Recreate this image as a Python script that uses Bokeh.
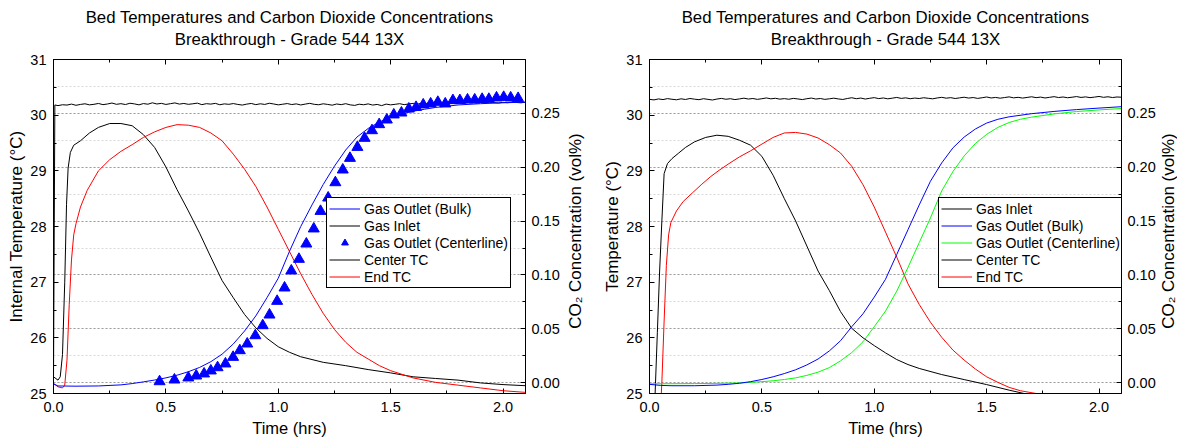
import math
from bokeh.plotting import figure
from bokeh.models import (Range1d, LinearAxis, Grid, Legend, LegendItem, Title, Label,
                          SingleIntervalTicker, NumeralTickFormatter, CustomJSTickFormatter)
from bokeh.layouts import row
from bokeh.embed import file_html
from bokeh.resources import INLINE

FONT = "Liberation Sans"
TITLE_1 = "Bed Temperatures and Carbon Dioxide Concentrations"
TITLE_2 = "Breakthrough - Grade 544 13X"
X_LABEL = "Time (hrs)"
Y_LABEL_A = "Internal Temperature (\u00b0C)"
Y_LABEL_B = "Temperature (\u00b0C)"
Y2_LABEL = "CO\u2082 Concentration (vol%)"

# ---------------- Left panel data ----------------
L_center_t = [0.0, 0.02, 0.03, 0.04, 0.05, 0.058, 0.065, 0.075, 0.09, 0.12,
              0.16, 0.20, 0.25, 0.30, 0.35, 0.40, 0.45, 0.50, 0.55, 0.60,
              0.65, 0.70, 0.75, 0.80, 0.85, 0.90, 0.95, 1.00, 1.05, 1.10,
              1.20, 1.30, 1.40, 1.50, 1.60, 1.70, 1.80, 1.90, 2.00, 2.10]
L_center_T = [25.30, 25.24, 25.30, 25.70, 27.00, 28.40, 29.05, 29.33, 29.46, 29.54,
              29.68, 29.78, 29.85, 29.85, 29.81, 29.65, 29.42, 29.07, 28.66, 28.28,
              27.88, 27.45, 27.03, 26.72, 26.42, 26.18, 25.99, 25.84, 25.74, 25.66,
              25.56, 25.50, 25.43, 25.37, 25.30, 25.27, 25.24, 25.19, 25.16, 25.14]

L_end_t = [0.0, 0.02, 0.04, 0.05, 0.06, 0.07, 0.08, 0.09, 0.10, 0.12,
           0.15, 0.20, 0.25, 0.30, 0.35, 0.40, 0.45, 0.50, 0.55, 0.60,
           0.65, 0.70, 0.75, 0.80, 0.85, 0.90, 0.95, 1.00, 1.05, 1.10,
           1.15, 1.20, 1.25, 1.30, 1.35, 1.40, 1.45, 1.50, 1.60, 1.70,
           1.80, 1.90, 2.00, 2.10]
L_end_T = [25.18, 25.12, 25.10, 25.15, 25.60, 26.60, 27.40, 27.85, 28.05, 28.35,
           28.65, 29.00, 29.20, 29.35, 29.47, 29.60, 29.70, 29.78, 29.83, 29.82,
           29.78, 29.68, 29.54, 29.30, 29.03, 28.72, 28.35, 27.95, 27.55, 27.15,
           26.78, 26.44, 26.15, 25.92, 25.74, 25.62, 25.50, 25.41, 25.28, 25.20,
           25.15, 25.10, 25.05, 25.02]

L_bulk_t = [0.0, 0.02, 0.10, 0.20, 0.30, 0.35, 0.40, 0.45, 0.50, 0.55,
            0.60, 0.65, 0.70, 0.75, 0.80, 0.85, 0.90, 0.95, 1.00, 1.05,
            1.10, 1.15, 1.20, 1.25, 1.30, 1.35, 1.40, 1.45, 1.50, 1.55,
            1.60, 1.65, 1.70, 1.80, 1.90, 2.00, 2.10]
L_bulk_v = [-0.001, -0.003, -0.0032, -0.003, -0.002, -0.0008, 0.0008, 0.0025, 0.0045, 0.007,
            0.0102, 0.0142, 0.0195, 0.0265, 0.036, 0.048, 0.062, 0.079, 0.097, 0.122,
            0.145, 0.165, 0.184, 0.201, 0.216, 0.228, 0.236, 0.242, 0.2465, 0.2495,
            0.252, 0.2538, 0.2555, 0.2578, 0.259, 0.2598, 0.2604]

L_cl_t = [0.472, 0.538, 0.600, 0.635, 0.670, 0.700, 0.730, 0.765, 0.799, 0.829,
          0.862, 0.898, 0.931, 0.961, 0.995, 1.028, 1.058, 1.092, 1.125, 1.158,
          1.188, 1.222, 1.254, 1.287, 1.319, 1.352, 1.384, 1.417, 1.449, 1.483,
          1.514, 1.548, 1.581, 1.613, 1.645, 1.678, 1.710, 1.743, 1.777, 1.808,
          1.842, 1.874, 1.907, 1.937, 1.971, 2.003, 2.034, 2.067]
L_cl_v = [0.0011, 0.0027, 0.0046, 0.0064, 0.0083, 0.0111, 0.0141, 0.0176, 0.0237, 0.0299,
          0.0361, 0.0438, 0.0531, 0.0630, 0.0757, 0.0881, 0.1039, 0.1147, 0.1289, 0.1429,
          0.1592, 0.1716, 0.1858, 0.1976, 0.2084, 0.2186, 0.2270, 0.2341, 0.2397, 0.2440,
          0.2487, 0.2505, 0.2542, 0.2557, 0.2580, 0.2589, 0.2604, 0.2589, 0.2620, 0.2620,
          0.2626, 0.2626, 0.2632, 0.2632, 0.2645, 0.2650, 0.2645, 0.2640]

L_inlet_t = [0.0, 0.006] + [round(0.02 * i, 2) for i in range(1, 106)]
L_inlet_v = [0.004, 0.2578,
             0.2572, 0.2580, 0.2577, 0.2586, 0.2575, 0.2583, 0.2589, 0.2579, 0.2584, 0.2592,
             0.2581, 0.2587, 0.2596, 0.2584, 0.2590, 0.2582, 0.2594, 0.2588, 0.2579, 0.2591,
             0.2585, 0.2598, 0.2587, 0.2593, 0.2583, 0.2590, 0.2597, 0.2586, 0.2592, 0.2584,
             0.2589, 0.2595, 0.2581, 0.2590, 0.2586, 0.2593, 0.2580, 0.2588, 0.2584, 0.2591,
             0.2583, 0.2577, 0.2586, 0.2592, 0.2581, 0.2589, 0.2583, 0.2594, 0.2587, 0.2579,
             0.2585, 0.2591, 0.2582, 0.2588, 0.2578, 0.2586, 0.2593, 0.2584, 0.2580, 0.2589,
             0.2583, 0.2576, 0.2587, 0.2581, 0.2590, 0.2579, 0.2574, 0.2585, 0.2580, 0.2588,
             0.2577, 0.2583, 0.2572, 0.2586, 0.2579, 0.2584, 0.2590, 0.2581, 0.2587, 0.2593,
             0.2586, 0.2595, 0.2589, 0.2598, 0.2591, 0.2600, 0.2593, 0.2588, 0.2597, 0.2602,
             0.2594, 0.2599, 0.2605, 0.2596, 0.2601, 0.2598, 0.2606, 0.2600, 0.2596, 0.2603,
             0.2599, 0.2605, 0.2601, 0.2598, 0.2604]

# ---------------- Right panel data ----------------
R_center_t = [0.0, 0.015, 0.025, 0.035, 0.045, 0.055, 0.065, 0.08, 0.10,
              0.13, 0.16, 0.20, 0.25, 0.30, 0.35, 0.40, 0.45, 0.50, 0.55,
              0.60, 0.65, 0.70, 0.75, 0.80, 0.85, 0.90, 0.95, 1.00, 1.05,
              1.10, 1.15, 1.20, 1.30, 1.40, 1.50, 1.60, 1.70, 1.80, 1.90,
              2.00, 2.10]
R_center_T = [24.50, 24.60, 25.00, 26.10, 27.20, 28.10, 28.95, 29.13, 29.22,
              29.32, 29.42, 29.52, 29.60, 29.64, 29.62, 29.55, 29.46, 29.26, 28.92,
              28.50, 28.10, 27.65, 27.20, 26.85, 26.47, 26.17, 26.00, 25.86, 25.73,
              25.61, 25.52, 25.45, 25.34, 25.25, 25.16, 25.06, 24.97, 24.90, 24.85,
              24.80, 24.75]

R_end_t = [0.0, 0.04, 0.05, 0.055, 0.065, 0.075, 0.085, 0.095, 0.12, 0.15,
           0.19, 0.23, 0.27, 0.31, 0.35, 0.40, 0.45, 0.50, 0.55, 0.60,
           0.65, 0.70, 0.75, 0.80, 0.85, 0.90, 0.95, 1.00, 1.05, 1.10,
           1.15, 1.20, 1.25, 1.30, 1.35, 1.40, 1.45, 1.50, 1.55, 1.60,
           1.65, 1.72, 1.80, 1.90, 2.00, 2.10]
R_end_T = [24.50, 24.60, 24.80, 25.20, 26.30, 27.30, 27.85, 28.07, 28.28, 28.45,
           28.60, 28.75, 28.89, 29.01, 29.12, 29.25, 29.36, 29.48, 29.60, 29.68,
           29.69, 29.66, 29.59, 29.47, 29.32, 29.08, 28.75, 28.35, 27.90, 27.45,
           26.97, 26.60, 26.28, 26.01, 25.78, 25.60, 25.44, 25.30, 25.20, 25.11,
           25.05, 25.00, 24.94, 24.88, 24.83, 24.80]

R_bulk_t = [0.0, 0.05, 0.10, 0.20, 0.30, 0.35, 0.40, 0.45, 0.50, 0.55,
            0.60, 0.65, 0.70, 0.75, 0.80, 0.85, 0.90, 0.95, 1.00, 1.05,
            1.10, 1.15, 1.20, 1.25, 1.30, 1.35, 1.40, 1.45, 1.50, 1.55,
            1.60, 1.70, 1.80, 1.90, 2.00, 2.10]
R_bulk_v = [-0.0015, -0.0025, -0.0028, -0.0028, -0.0022, -0.0015, -0.0005, 0.001, 0.003, 0.0055,
            0.0085, 0.012, 0.0165, 0.022, 0.0295, 0.039, 0.052, 0.064, 0.0795, 0.096,
            0.119, 0.142, 0.165, 0.187, 0.204, 0.218, 0.228, 0.2355, 0.241, 0.2445,
            0.2468, 0.2497, 0.2518, 0.2535, 0.2549, 0.2562]

R_cl_t = [0.0, 0.10, 0.20, 0.30, 0.40, 0.45, 0.50, 0.55, 0.60, 0.65,
          0.70, 0.75, 0.80, 0.85, 0.90, 0.95, 1.00, 1.05, 1.10, 1.15,
          1.20, 1.25, 1.30, 1.35, 1.40, 1.45, 1.50, 1.55, 1.60, 1.65,
          1.70, 1.80, 1.90, 2.00, 2.10]
R_cl_v = [-0.001, -0.0009, -0.0008, -0.0006, -0.0002, 0.0003, 0.001, 0.0018, 0.003, 0.0045,
          0.0068, 0.0098, 0.014, 0.0203, 0.028, 0.038, 0.052, 0.0665, 0.085, 0.107,
          0.130, 0.153, 0.178, 0.196, 0.2105, 0.222, 0.2305, 0.237, 0.2415, 0.2445,
          0.2465, 0.2495, 0.2517, 0.2532, 0.2545]

R_inlet_t = [round(0.02 * i, 2) for i in range(106)]
R_inlet_v = [0.2630, 0.2625, 0.2634, 0.2628, 0.2637, 0.2631, 0.2626, 0.2635, 0.2629, 0.2638,
             0.2632, 0.2627, 0.2636, 0.2630, 0.2624, 0.2633, 0.2639, 0.2631, 0.2636, 0.2628,
             0.2634, 0.2641, 0.2633, 0.2638, 0.2630, 0.2636, 0.2643, 0.2635, 0.2640, 0.2632,
             0.2637, 0.2631, 0.2639, 0.2634, 0.2628, 0.2636, 0.2642, 0.2633, 0.2638, 0.2630,
             0.2635, 0.2641, 0.2634, 0.2629, 0.2638, 0.2645, 0.2636, 0.2642, 0.2633, 0.2640,
             0.2646, 0.2637, 0.2643, 0.2635, 0.2641, 0.2648, 0.2639, 0.2644, 0.2636, 0.2642,
             0.2638, 0.2645, 0.2640, 0.2635, 0.2643, 0.2649, 0.2641, 0.2646, 0.2638, 0.2644,
             0.2650, 0.2642, 0.2647, 0.2639, 0.2645, 0.2652, 0.2643, 0.2648, 0.2641, 0.2647,
             0.2653, 0.2644, 0.2649, 0.2642, 0.2648, 0.2654, 0.2646, 0.2651, 0.2643, 0.2649,
             0.2655, 0.2647, 0.2652, 0.2645, 0.2650, 0.2656, 0.2648, 0.2653, 0.2646, 0.2651,
             0.2657, 0.2649, 0.2654, 0.2647, 0.2652, 0.2650]

BLUE = "#0000ff"
RED = "#ff0000"
GREEN = "#00ff00"
BLACK = "#000000"
H = 440


def style_axis(ax):
    ax.axis_line_color = "black"
    ax.major_tick_line_color = "black"
    ax.minor_tick_line_color = "black"
    ax.major_tick_in = 5
    ax.major_tick_out = 0
    ax.minor_tick_in = 3
    ax.minor_tick_out = 0
    ax.major_label_text_font = FONT
    ax.major_label_text_font_size = "14.5px"
    ax.major_label_text_color = "black"
    ax.axis_label_text_font = FONT
    ax.axis_label_text_font_size = "17px"
    ax.axis_label_text_font_style = "normal"
    ax.axis_label_text_color = "black"


def make_panel(width, bl, br, ylabel):
    p = figure(width=width, height=H, x_range=Range1d(0, 2.1), y_range=Range1d(25, 31),
               output_backend="svg", toolbar_location=None, title_location=None,
               x_axis_location=None, y_axis_location=None,
               min_border_left=bl, min_border_right=br, min_border_top=59, min_border_bottom=47)
    p.extra_y_ranges = {"co2": Range1d(-0.01, 0.30)}
    p.xgrid.visible = False
    p.ygrid.visible = False
    p.outline_line_color = "black"
    p.background_fill_color = "white"
    p.border_fill_color = "white"

    xt = SingleIntervalTicker(interval=0.5, num_minor_ticks=2)
    bottom = LinearAxis(ticker=xt, formatter=NumeralTickFormatter(format="0.0"), axis_label=X_LABEL)
    style_axis(bottom)
    bottom.axis_label_text_font_size = "16.5px"
    bottom.major_label_standoff = 8
    bottom.axis_label_standoff = 4
    p.add_layout(bottom, "below")

    left = LinearAxis(ticker=SingleIntervalTicker(interval=1, num_minor_ticks=2), axis_label=ylabel)
    style_axis(left)
    left.major_label_standoff = 7
    left.axis_label_standoff = 1
    p.add_layout(left, "left")

    rt = SingleIntervalTicker(interval=0.05, num_minor_ticks=2)
    right = LinearAxis(y_range_name="co2", ticker=rt, formatter=NumeralTickFormatter(format="0.00"))
    style_axis(right)
    right.major_label_standoff = 6
    p.add_layout(right, "right")

    # top mirror axis; its axis label carries the second title line
    top = LinearAxis(ticker=xt, formatter=CustomJSTickFormatter(code="return ''"),
                     axis_label=TITLE_2)
    style_axis(top)
    top.major_label_standoff = 0
    top.axis_label_standoff = 11
    top.axis_label_text_font_size = "16.8px"
    p.add_layout(top, "above")

    p.add_layout(Title(text=TITLE_1, align="center", text_font=FONT, text_font_size="16.8px",
                       text_font_style="normal", text_color="black", standoff=0), "above")

    p.add_layout(Grid(dimension=1, ticker=rt, y_range_name="co2",
                      grid_line_color="#a0a0a0", grid_line_dash="2 2", grid_line_width=1,
                      minor_grid_line_color="#d8d8d8", minor_grid_line_dash="2 2",
                      minor_grid_line_width=1))
    return p


def make_label_strip(width, cx, cy):
    s = figure(width=width, height=H, x_range=Range1d(0, width), y_range=Range1d(0, H),
               output_backend="svg", toolbar_location=None, title_location=None,
               x_axis_location=None, y_axis_location=None, min_border=0)
    s.xgrid.visible = False
    s.ygrid.visible = False
    s.outline_line_color = None
    s.add_layout(Label(x=cx, y=H - cy, text=Y2_LABEL, angle=math.pi / 2,
                       text_align="center", text_baseline="middle",
                       text_font=FONT, text_font_size="17px", text_color="black"))
    return s


def make_legend(items, loc):
    return Legend(items=items, location=loc, orientation="vertical",
                  border_line_color="black", border_line_width=1, border_line_alpha=1,
                  background_fill_color="white", background_fill_alpha=1,
                  label_text_font=FONT, label_text_font_size="14px", label_text_color="black",
                  glyph_width=31, glyph_height=17, label_height=17, label_standoff=4,
                  padding=2, spacing=0, margin=0)


# ---------- left panel ----------
p1 = make_panel(566, 53, 41, Y_LABEL_A)
r_inlet = p1.line(L_inlet_t, L_inlet_v, y_range_name="co2", color=BLACK, line_width=1)
r_center = p1.line(L_center_t, L_center_T, color=BLACK, line_width=1)
r_end = p1.line(L_end_t, L_end_T, color=RED, line_width=1)
r_bulk = p1.line(L_bulk_t, L_bulk_v, y_range_name="co2", color=BLUE, line_width=1)
r_cl = p1.scatter(L_cl_t, L_cl_v, y_range_name="co2", marker="triangle", size=11,
                  fill_color=BLUE, line_color=BLUE)
p1.add_layout(make_legend([
    LegendItem(label="Gas Outlet (Bulk)", renderers=[r_bulk]),
    LegendItem(label="Gas Inlet", renderers=[r_inlet]),
    LegendItem(label="Gas Outlet (Centerline)", renderers=[r_cl]),
    LegendItem(label="Center TC", renderers=[r_center]),
    LegendItem(label="End TC", renderers=[r_end]),
], (273, 105)))

lab1 = make_label_strip(20, 9, 226)

# ---------- right panel ----------
p2 = make_panel(573, 63, 38, Y_LABEL_B)
s_inlet = p2.line(R_inlet_t, R_inlet_v, y_range_name="co2", color=BLACK, line_width=1)
s_center = p2.line(R_center_t, R_center_T, color=BLACK, line_width=1)
s_end = p2.line(R_end_t, R_end_T, color=RED, line_width=1)
s_cl = p2.line(R_cl_t, R_cl_v, y_range_name="co2", color=GREEN, line_width=1)
s_bulk = p2.line(R_bulk_t, R_bulk_v, y_range_name="co2", color=BLUE, line_width=1)
p2.add_layout(make_legend([
    LegendItem(label="Gas Inlet", renderers=[s_inlet]),
    LegendItem(label="Gas Outlet (Bulk)", renderers=[s_bulk]),
    LegendItem(label="Gas Outlet (Centerline)", renderers=[s_cl]),
    LegendItem(label="Center TC", renderers=[s_center]),
    LegendItem(label="End TC", renderers=[s_end]),
], (289, 105)))

lab2 = make_label_strip(18, 9, 226)

layout = row(p1, lab1, p2, lab2)
open("out.html", "w").write(file_html(layout, INLINE))
